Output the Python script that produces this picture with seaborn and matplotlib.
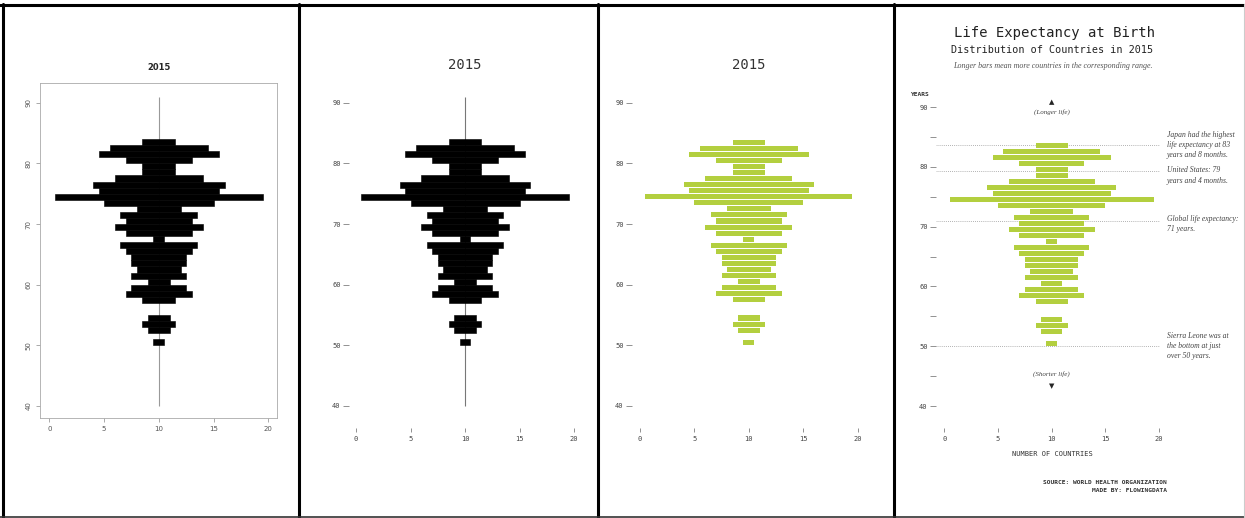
import numpy as np
import pandas as pd
import matplotlib.pyplot as plt
import seaborn as sns
from matplotlib.lines import Line2D

# life expectancy bins (lower edge, years) and number of countries, 2015
age_bins = [50, 52, 53, 54, 57, 58, 59, 60, 61, 62, 63, 64, 65, 66, 67, 68,
            69, 70, 71, 72, 73, 74, 75, 76, 77, 78, 79, 80, 81, 82, 83]
n_countries = [1, 2, 3, 2, 3, 6, 5, 2, 5, 4, 5, 5, 6, 7, 1, 6,
               8, 6, 7, 4, 10, 19, 11, 12, 8, 3, 3, 6, 11, 9, 3]

x_ticks = [0, 5, 10, 15, 20]
y_ticks = [40, 50, 60, 70, 80, 90]
y_ticks_minor = [40, 45, 50, 55, 60, 65, 70, 75, 80, 85, 90]

# annotations for the final version
note_years = [83.67, 79.33, 71.0, 50.0]
note_text_y = [83.67, 78.55, 70.4, 50.0]
note_texts = ["Japan had the highest\nlife expectancy at 83\nyears and 8 months.",
              "United States: 79\nyears and 4 months.",
              "Global life expectancy:\n71 years.",
              "Sierra Leone was at\nthe bottom at just\nover 50 years."]

df = pd.DataFrame({"age": np.array(age_bins) + 0.5, "n": n_countries})
df = df.sort_values("age")
df["left"] = 10 - df["n"] / 2

GREEN = "#b3cf3f"
MONO = "DejaVu Sans Mono"

sns.set_style("white")
plt.rcParams["font.family"] = ["DejaVu Sans"]

W, H = 1245, 518
fig = plt.figure(figsize=(W / 100, H / 100), dpi=100)


def place(ax, box, x0, x20, y90, y40):
    # box and data anchors given in pixels from the top-left corner
    l, t, r, b = box
    ax.set_position([l / W, 1 - b / H, (r - l) / W, (b - t) / H])
    sx = (x20 - x0) / 20
    sy = (y40 - y90) / 50
    ax.set_xlim((l - x0) / sx, (r - x0) / sx)
    ax.set_ylim(90 - (b - y90) / sy, 90 - (t - y90) / sy)


def ftext(px, py, s, **kw):
    fig.text(px / W, 1 - py / H, s, **kw)


def bars(ax, color, width, lw=0):
    sns.barplot(data=df, x="n", y="age", orient="h", native_scale=True,
                width=width, color=color, saturation=1, errorbar=None,
                left=df["left"].to_numpy(), linewidth=lw, edgecolor=color,
                ax=ax, zorder=2)
    ax.set(xlabel="", ylabel="")


def bare_axes(ax, ylabels):
    for s in ax.spines.values():
        s.set_visible(False)
    ax.set_xticks(x_ticks)
    ax.set_xticklabels([str(t) for t in x_ticks], family=MONO, fontsize=5, color="#444")
    ax.tick_params(axis="x", bottom=True, direction="out", length=3, width=0.5,
                   color="#666", pad=3)
    ax.tick_params(axis="y", left=True, direction="out", length=4, width=0.5,
                   color="#666", pad=2)
    ax.set_yticklabels(ylabels, family=MONO, fontsize=5, color="#444")


# ---- panel 1: default R-ish look
ax1 = fig.add_axes([0, 0, 1, 1])
ax1.vlines(10, 40, 91, color="#999999", lw=0.8, zorder=1)
bars(ax1, "black", 1.0, lw=0.4)
place(ax1, (40, 83, 277, 418), 49.3, 268.3, 102.7, 406)
for s in ax1.spines.values():
    s.set_color("#aaaaaa")
    s.set_linewidth(0.6)
ax1.set_xticks(x_ticks)
ax1.set_yticks(y_ticks)
ax1.set_xticklabels([str(t) for t in x_ticks], fontsize=5, color="#555")
ax1.set_yticklabels([str(t) for t in y_ticks], fontsize=5, color="#555",
                    rotation=90, va="center")
ax1.tick_params(bottom=True, left=True, direction="out", length=3, width=0.5,
                color="#888", pad=3)
ftext(159, 67, "2015", ha="center", va="center", fontsize=6, fontweight="bold")

# ---- panel 2: no frame, monospace
ax2 = fig.add_axes([0, 0, 1, 1])
ax2.vlines(10, 40, 91, color="#777777", lw=0.8, zorder=1)
bars(ax2, "black", 1.0, lw=0.4)
place(ax2, (349, 85, 585, 428), 356, 574, 102.7, 406)
ax2.set_yticks(y_ticks)
bare_axes(ax2, [str(t) for t in y_ticks])
ftext(465, 65, "2015", ha="center", va="center", fontsize=10, family=MONO, color="#333")

# ---- panel 3: green bars with gaps
ax3 = fig.add_axes([0, 0, 1, 1])
bars(ax3, GREEN, 0.84)
place(ax3, (632, 85, 868, 428), 640, 857.7, 102.7, 406)
ax3.set_yticks(y_ticks)
bare_axes(ax3, [str(t) for t in y_ticks])
ftext(749, 65, "2015", ha="center", va="center", fontsize=10, family=MONO, color="#333")

# ---- panel 4: annotated
ax4 = fig.add_axes([0, 0, 1, 1])
bars(ax4, GREEN, 0.84)
place(ax4, (936, 85, 1165, 428), 944.3, 1159, 107, 406)
ax4.set_yticks(y_ticks_minor)
bare_axes(ax4, [str(t) if t % 10 == 0 else "" for t in y_ticks_minor])
ax4.hlines(note_years, -0.9, 20, colors="#999999", linestyles=(0, (1, 1.5)),
           lw=0.6, zorder=1)
for ty, s in zip(note_text_y, note_texts):
    ax4.text(20.7, ty, s, ha="left", va="center", fontsize=5.5, style="italic",
             family="Liberation Serif", color="#444", linespacing=1.35)
ax4.text(10, 90.8, "▲", ha="center", va="center", fontsize=5)
ax4.text(10, 89.2, "(Longer life)", ha="center", va="center", fontsize=5,
         style="italic", family="Liberation Serif", color="#444")
ax4.text(10, 45.4, "(Shorter life)", ha="center", va="center", fontsize=5,
         style="italic", family="Liberation Serif", color="#444")
ax4.text(10, 43.4, "▼", ha="center", va="center", fontsize=5)

ftext(1055, 33, "Life Expectancy at Birth", ha="center", va="center",
      fontsize=10, family=MONO, color="#222")
ftext(1052, 50, "Distribution of Countries in 2015", ha="center", va="center",
      fontsize=7.3, family=MONO, color="#222")
ftext(1053, 66, "Longer bars mean more countries in the corresponding range.",
      ha="center", va="center", fontsize=5.8, style="italic",
      family="Liberation Serif", color="#555")
ftext(910, 94, "YEARS", ha="left", va="center", fontsize=4.5, family=MONO,
      fontweight="bold", color="#333")
ftext(1052, 454, "NUMBER OF COUNTRIES", ha="center", va="center", fontsize=5,
      family=MONO, color="#333")
ftext(1167, 483, "SOURCE: WORLD HEALTH ORGANIZATION", ha="right", va="center",
      fontsize=4.5, family=MONO, fontweight="bold", color="#333")
ftext(1167, 491, "MADE BY: FLOWINGDATA", ha="right", va="center",
      fontsize=4.5, family=MONO, fontweight="bold", color="#333")

# ---- frame lines around and between the four versions
def fline(x, y, **kw):
    fig.add_artist(Line2D([v / W for v in x], [1 - v / H for v in y],
                          transform=fig.transFigure, **kw))


fline([0, W], [4.5, 4.5], color="black", lw=2.2)
fline([3, 3], [4, H], color="black", lw=2.2)
for xd in [299, 598, 894]:
    fline([xd, xd], [4, H], color="black", lw=2.2)
fline([0, W], [516.5, 516.5], color="#333333", lw=1.2)
fline([1244, 1244], [4, H], color="#cccccc", lw=0.8)

fig.savefig("out.png", dpi=100)
